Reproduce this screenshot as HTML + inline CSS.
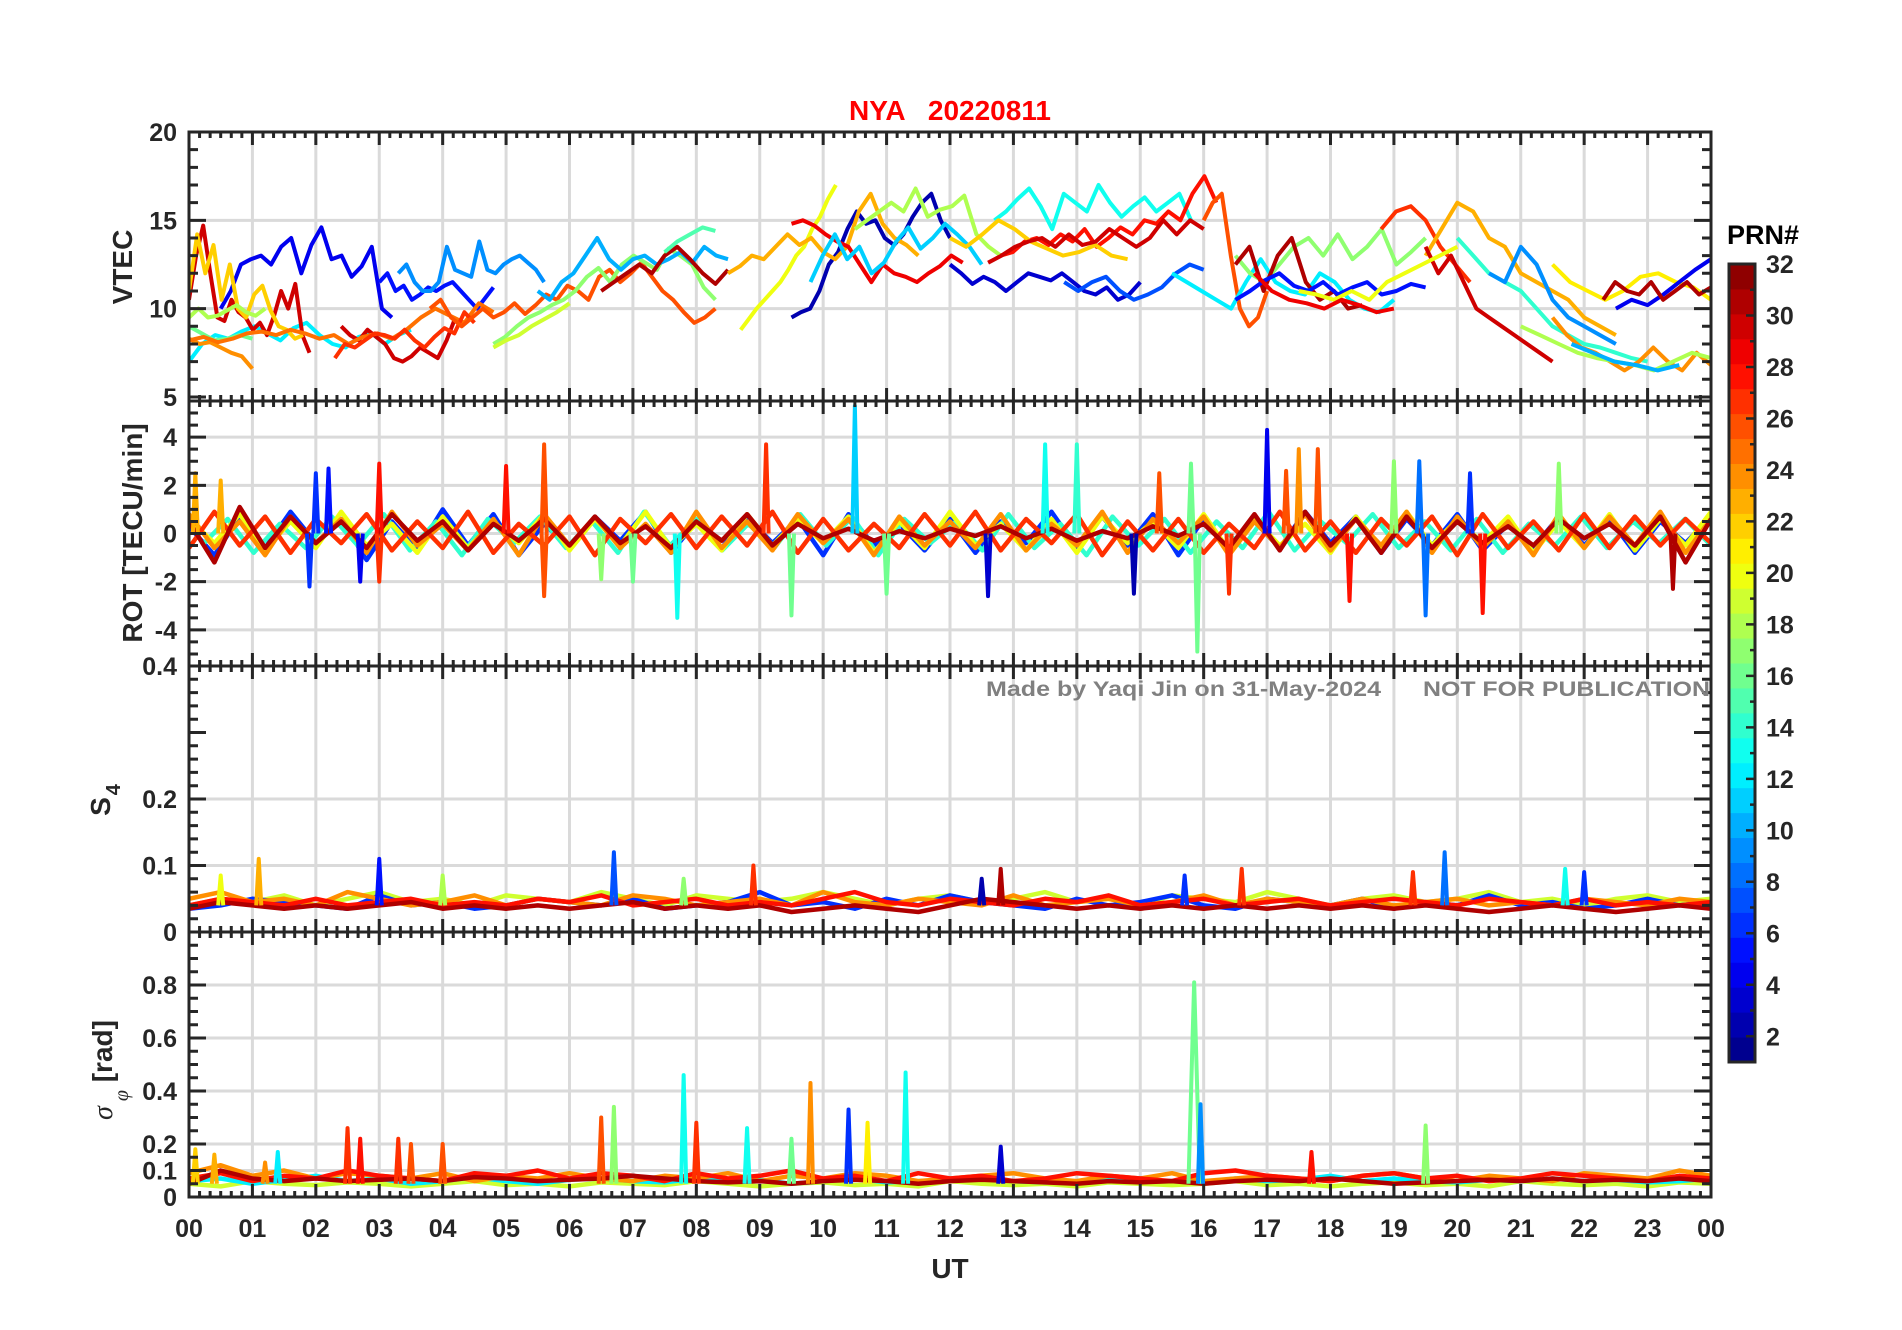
<!DOCTYPE html>
<html><head><meta charset="utf-8"><title>NYA 20220811</title>
<style>html,body{margin:0;padding:0;background:#fff}svg{display:block}text{font-family:"Liberation Sans",Arial,sans-serif;font-weight:bold}</style>
</head><body>
<svg id="chart" xmlns="http://www.w3.org/2000/svg" width="1902" height="1330" viewBox="0 0 1902 1330">
<rect x="0" y="0" width="1902" height="1330" fill="#fff"/>
<g id="layer"></g>
</svg>
<script>
// ---- data: [prn, startHour, endHour, values] ----
const vtecSeries = [
 [4,0.5,3.2,[10,11,12.5,12.8,13,12.5,13.5,14,12,13.6,14.6,12.8,13,11.8,12.4,13.5,10,9.5]],
 [5,3.0,4.8,[11.5,12,11,11.3,10.5,10.8,11.2,11,11.3,11.5,11,10.5,10,10.6,11.2]],
 [9,3.3,5.6,[12,12.5,11.5,11,11,11.5,13.5,12.2,12,11.8,13.8,12.2,12,12.5,12.8,13,12.6,12.2,11.5]],
 [12,0,3.5,[7,8,8.5,8.3,8.7,9,8.6,8.2,8.9,9.2,8.5,8,7.8,8.4,8.6,8,8.5,8.8]],
 [30,0,1.9,[10.5,13,14.7,12,9.5,9.3,10.5,9.8,9.5,8.8,9.2,8.5,9.6,11,10,11.4,8.5,7.5]],
 [30,2.4,4.2,[9,8.5,8.2,8.8,8.4,8,7.2,7,7.3,7.8,7.5,7.2,8.2,9.5]],
 [22,0,1.8,[11,14.2,12,13.6,10.5,12.5,10,9.5,10.8,11.3,9.9,9,8.8,8.3,8.5]],
 [18,0,1.2,[9.5,10,9.5,9.6,9.9,10.2,9.8,9.6,10]],
 [16,0,1.0,[9,8.6,8.2,8.3,8.5,8.3]],
 [24,0,1.0,[8.3,8,8.1,7.8,7.5,7.3,6.6]],
 [25,0,4.8,[8.2,8.4,8.1,8.3,8.6,8.7,8.5,8.8,8.6,8.3,8.5,8.0,8.4,8.6,8.3,8.8,9.5,10,9.6,9.2,10.3,9.8]],
 [27,2.3,4.5,[7.2,8,7.8,8.2,8.6,8.5,8.3,8.8,8.2,7.8,8.4,8.9,8.6,9.8,9.2]],
 [26,3.8,8.3,[10,10.5,9.5,9,9.5,10,9.5,9.8,10.3,9.7,10.2,10.8,10.5,11.3,11,10.5,11.8,12.2,11.5,12,12.6,11.8,11,10.5,9.8,9.2,9.5,10]],
 [17,4.8,8.3,[8,8.4,9,9.5,9.8,10.2,10.5,11,11.8,12.3,11.5,12.5,13,12.6,12.2,13.4,13,12.5,11.2,10.5]],
 [19,4.8,6.0,[7.8,8.2,8.5,9,9.4,9.8,10.3]],
 [10,5.5,8.5,[11,10.5,11.5,12,13,14,12.8,12.2,12.8,13,12.5,12.8,13.2,12.6,13.5,13,12.8]],
 [31,6.5,8.5,[11,11.5,12,12.5,12,13,13.5,12.8,12,11.4,12.2]],
 [15,7.5,8.3,[13.2,13.8,14.2,14.6,14.4]],
 [20,8.7,10.2,[8.8,9.4,10,10.5,11,11.5,12.2,13,13.5,14.5,15.2,16.2,17]],
 [2,9.5,12.0,[9.5,9.8,10,11,12.5,13.2,14.5,15.5,14.8,15,14,13.6,14.2,15.2,16,16.5,15,14]],
 [23,8.5,11.5,[12,12.4,13,12.8,13.5,14.2,13.6,14,13.2,12.8,13.5,15.5,16.5,14.8,14,13.6,13]],
 [29,9.5,12.2,[14.8,15,14.7,14.2,13.8,13.5,12.5,11.5,12.5,12,11.8,11.5,12,12.4,13,12.6]],
 [11,9.8,12.5,[11.5,13,14.2,12.8,13.5,12,12.6,13.8,14.6,13.4,14,14.8,14.2,13.5,12.5]],
 [18,10.5,12.8,[14.5,15,15.5,16,15.5,16.8,15.2,15.6,15.8,16.4,14.2,13.5,13]],
 [3,12.0,15.0,[12.5,12,11.4,11.8,11.5,11,11.5,12,11.8,11.6,12,11.5,11,10.8,11.2,10.5,10.8,11.5]],
 [13,12.7,15.8,[15,15.5,16.2,16.8,15.8,14.5,16.5,16,15.5,17,16,15.2,15.8,16.3,15.5,16,16.5,15]],
 [28,12.8,16.2,[13,13.2,13.8,14,13.6,14.2,13.8,14.5,13.5,14,14.6,14.2,15,14.8,15.5,15,16.5,17.5,16]],
 [22,12.0,14.8,[14,13.5,14.2,15,14.5,13.8,13.4,13,13.2,13.6,13,12.8]],
 [30,12.6,16.0,[12.6,13,13.5,13.8,14,13.5,14.2,13.6,13.8,14.5,14,13.5,14,15,14.2,15,14.5]],
 [7,13.8,16.0,[11.5,11,11.5,11.8,11,10.5,10.8,11.2,12,12.5,12.2]],
 [26,16.0,17.0,[15,16,16.5,13,10,9,9.5,11]],
 [12,15.5,19.0,[12,11.5,11,10.5,10,11.5,12.8,11.5,11,10.8,12,11.5,10.5,10,9.8,10.5]],
 [17,16.5,19.5,[13,12,11.5,12.5,13.5,14,13,14.2,12.8,13.5,14.5,12.5,13.2,14]],
 [31,16.5,18.5,[12.5,13.5,11,13,14,11.5,10.5,11,10,10.2]],
 [5,16.5,19.5,[10.5,11,11.6,12,11.3,11,11.5,10.8,11.2,11.5,10.8,11,11.4,11.2]],
 [27,18.8,20.2,[14.5,15.5,15.8,15,13.5,12.5,11.5]],
 [23,19.5,22.5,[13,14.5,16,15.5,14,13.5,12,11.5,11,10.5,9.5,9,8.5]],
 [30,19.5,21.5,[13.5,12,13,11.5,10,9.5,9,8.5,8,7.5,7]],
 [14,20.0,23.0,[14,13,12,11.5,11,10,9,8.5,8,7.8,7.5,7.2,7]],
 [9,20.5,22.5,[12,11.5,13.5,12.5,10.5,9.5,9,8.5,8]],
 [21,21.5,24,[12.5,11.5,11,10.5,11,11.8,12,11.5,11.2,10.5]],
 [4,22.5,24,[10,10.5,10.2,10.8,11.5,12.2,12.8]],
 [31,22.3,24,[10.5,11.5,11,10.8,11.5,10.5,11,11.5,10.8,11.2]],
 [24,21.5,24,[9.5,8.5,7.8,7.5,7,6.5,7,7.8,7,6.5,7.5,6.8]],
 [18,21,24,[9,8.5,8,7.5,7.2,7,6.8,6.5,7,7.5,7.2]],
 [10,21.8,23.5,[8,7.5,7,6.8,6.5,6.8]],
 [20,17.5,20.0,[11,10.8,10.5,11,10.5,11.5,12,12.5,13,13.5]],
 [29,16.8,19,[12,11,10.5,10.3,10,10.5,10.2,9.8,10]]
];
const rotSeries = [
 [6,0,24,[0.3,-0.9,0.7,-0.6,0.9,-0.4,0.6,-1.1,0.5,-0.7,1.0,-0.5,0.8,-0.9,0.4,-0.6,0.7,-0.3,0.9,-0.8,0.5,-0.6,0.7,-0.4,0.6,-0.9,0.8,-0.5,0.4,-0.7,0.6,-0.8,0.5,-0.4,0.9,-0.6,0.7,-0.5,0.8,-0.9,0.6,-0.7,0.5,-0.6,0.9,-0.4,0.7,-0.8,0.6,-0.5,0.8,-0.7,0.4,-0.6,0.7,-0.5,0.6,-0.8,0.5,-0.4,0.7]],
 [14,0.2,24,[-0.5,0.6,-0.8,0.4,-0.6,0.7,-0.5,0.8,-0.7,0.5,-0.9,0.6,-0.4,0.7,-0.6,0.5,-0.8,0.9,-0.5,0.6,-0.7,0.4,-0.6,0.8,-0.5,0.7,-0.9,0.6,-0.4,0.5,-0.7,0.8,-0.6,0.4,-0.9,0.7,-0.5,0.6,-0.8,0.5,-0.6,0.9,-0.7,0.5,-0.4,0.8,-0.6,0.5,-0.7,0.6,-0.8,0.4,-0.5,0.7,-0.6,0.5,-0.4,0.6,-0.5]],
 [20,0,24,[0.6,-0.4,0.8,-0.7,0.5,-0.6,0.9,-0.5,0.4,-0.8,0.7,-0.6,0.5,-0.4,0.8,-0.7,0.6,-0.5,0.9,-0.6,0.4,-0.7,0.8,-0.5,0.6,-0.4,0.7,-0.8,0.5,-0.6,0.9,-0.5,0.4,-0.7,0.6,-0.8,0.7,-0.4,0.5,-0.6,0.8,-0.7,0.6,-0.5,0.4,-0.8,0.7,-0.6,0.9,-0.5,0.6,-0.4,0.7,-0.8,0.5,-0.6,0.8,-0.7,0.6,-0.5,0.9]],
 [24,0,24,[0.8,-0.6,0.5,-0.9,0.7,-0.4,0.6,-0.8,0.9,-0.5,0.4,-0.7,0.6,-0.9,0.8,-0.5,0.7,-0.6,0.4,-0.8,0.9,-0.6,0.5,-0.7,0.8,-0.4,0.6,-0.9,0.7,-0.5,0.5,-0.6,0.8,-0.7,0.4,-0.5,0.9,-0.8,0.6,-0.4,0.7,-0.9,0.5,-0.6,0.8,-0.7,0.6,-0.5,0.9,-0.8,0.7,-0.6,0.5,-0.9,0.8,-0.6,0.7,-0.5,0.9,-0.8,0.6]],
 [27,0,24,[-0.6,0.9,-0.5,0.7,-0.8,0.6,-0.4,0.8,-0.7,0.5,-0.6,0.9,-0.8,0.4,-0.5,0.7,-0.9,0.6,-0.4,0.8,-0.6,0.7,-0.5,0.9,-0.8,0.6,-0.7,0.4,-0.6,0.8,-0.5,0.9,-0.7,0.6,-0.4,0.8,-0.9,0.5,-0.7,0.6,-0.8,0.4,-0.6,0.9,-0.7,0.5,-0.8,0.6,-0.5,0.7,-0.9,0.8,-0.6,0.5,-0.7,0.8,-0.6,0.7,-0.5,0.6,-0.4]],
 [31,0,24,[0.5,-1.2,1.1,-0.6,0.7,-0.4,0.5,-0.6,0.8,-0.3,0.5,-0.7,0.4,-0.3,0.6,-0.5,0.7,-0.4,0.3,-0.6,0.5,-0.3,0.8,-0.5,0.4,-0.2,0.2,-0.3,0.1,-0.2,0.2,-0.1,0.3,-0.2,0.2,-0.3,0.1,-0.2,0.3,-0.1,0.4,-0.6,0.8,-0.7,0.9,-0.5,0.6,-0.8,0.7,-0.6,0.5,-0.4,0.3,-0.5,0.6,-0.2,0.4,-0.5,0.7,-1.2,0.6]]
];
const rotSpikes = [
 [6,2.0,2.5],[5,2.2,2.7],[6,1.9,-2.2],[4,2.7,-2.0],[28,3.0,2.9],[27,3.0,-2.0],[28,5.0,2.8],[26,5.6,3.7],[26,5.6,-2.6],
 [17,6.5,-1.9],[16,7.0,-2.0],[27,9.1,3.7],[11,10.5,5.3],[13,7.7,-3.5],[16,9.5,-3.4],[16,11.0,-2.5],[3,12.6,-2.6],
 [13,13.5,3.7],[14,14.0,3.7],[2,14.9,-2.5],[26,15.3,2.5],[16,15.8,2.9],[16,15.9,-4.9],[27,16.4,-2.5],[4,17.0,4.3],
 [26,17.3,2.6],[24,17.5,3.5],[26,17.8,3.5],[28,18.3,-2.8],[17,19.0,3.0],[8,19.4,3.0],[8,19.5,-3.4],[6,20.2,2.5],
 [28,20.4,-3.3],[17,21.6,2.9],[31,23.4,-2.3],[23,0.1,2.5],[23,0.5,2.2]
];
const s4Series = [
 [19,0,24,[0.04,0.05,0.045,0.055,0.04,0.05,0.06,0.045,0.05,0.04,0.055,0.05,0.045,0.06,0.05,0.04,0.055,0.05,0.045,0.05,0.06,0.05,0.04,0.05,0.055,0.045,0.05,0.06,0.045,0.05,0.04,0.055,0.05,0.045,0.06,0.05,0.04,0.05,0.055,0.045,0.05,0.06,0.045,0.05,0.04,0.05,0.055,0.045,0.05]],
 [6,0,24,[0.035,0.04,0.05,0.045,0.04,0.035,0.055,0.04,0.045,0.035,0.04,0.05,0.045,0.04,0.05,0.035,0.04,0.045,0.06,0.04,0.045,0.035,0.05,0.04,0.055,0.045,0.04,0.035,0.05,0.04,0.045,0.055,0.04,0.035,0.05,0.045,0.04,0.05,0.035,0.045,0.04,0.055,0.04,0.045,0.035,0.04,0.05,0.04,0.045]],
 [24,0,24,[0.05,0.06,0.045,0.05,0.04,0.06,0.05,0.04,0.045,0.055,0.04,0.05,0.045,0.04,0.055,0.05,0.04,0.045,0.05,0.04,0.06,0.045,0.04,0.05,0.045,0.04,0.055,0.04,0.045,0.05,0.04,0.045,0.055,0.04,0.05,0.045,0.04,0.05,0.04,0.045,0.05,0.04,0.045,0.04,0.05,0.045,0.04,0.05,0.045]],
 [28,0,24,[0.04,0.05,0.045,0.04,0.05,0.04,0.045,0.05,0.04,0.045,0.04,0.05,0.045,0.055,0.04,0.045,0.05,0.04,0.045,0.04,0.05,0.06,0.045,0.04,0.05,0.045,0.04,0.05,0.045,0.055,0.04,0.045,0.05,0.04,0.045,0.05,0.04,0.045,0.05,0.045,0.04,0.05,0.045,0.04,0.05,0.04,0.045,0.04,0.045]],
 [31,0,24,[0.035,0.045,0.04,0.035,0.04,0.035,0.04,0.045,0.035,0.04,0.035,0.04,0.035,0.04,0.045,0.035,0.04,0.035,0.04,0.03,0.035,0.04,0.035,0.03,0.04,0.05,0.045,0.04,0.035,0.04,0.035,0.04,0.035,0.04,0.035,0.04,0.035,0.04,0.035,0.04,0.035,0.03,0.035,0.04,0.035,0.03,0.035,0.04,0.035]]
];
const s4Spikes = [
 [23,1.1,0.11],[20,0.5,0.085],[5,3.0,0.11],[7,6.7,0.12],[27,8.9,0.10],[31,12.8,0.095],[6,15.7,0.085],[27,16.6,0.095],
 [27,19.3,0.09],[8,19.8,0.12],[13,21.7,0.095],[6,22.0,0.09],[17,7.8,0.08],[18,4.0,0.085],[2,12.5,0.08]
];
const sigSeries = [
 [19,0,24,[0.05,0.04,0.06,0.05,0.045,0.055,0.05,0.04,0.05,0.06,0.045,0.05,0.04,0.055,0.05,0.045,0.06,0.05,0.04,0.05,0.055,0.045,0.05,0.04,0.06,0.05,0.045,0.05,0.04,0.055,0.05,0.045,0.05,0.06,0.045,0.05,0.04,0.05,0.055,0.045,0.05,0.04,0.06,0.05,0.045,0.05,0.04,0.055,0.05]],
 [12,0,24,[0.06,0.07,0.05,0.065,0.08,0.06,0.07,0.05,0.06,0.075,0.06,0.05,0.065,0.07,0.06,0.055,0.07,0.06,0.065,0.05,0.06,0.07,0.055,0.06,0.065,0.07,0.06,0.055,0.06,0.07,0.065,0.06,0.055,0.07,0.06,0.065,0.08,0.06,0.07,0.06,0.055,0.065,0.06,0.07,0.06,0.065,0.055,0.06,0.07]],
 [24,0,24,[0.09,0.12,0.08,0.1,0.07,0.09,0.08,0.07,0.09,0.06,0.08,0.07,0.09,0.07,0.06,0.08,0.07,0.09,0.06,0.08,0.07,0.09,0.08,0.06,0.07,0.08,0.09,0.07,0.06,0.08,0.07,0.09,0.06,0.07,0.08,0.07,0.06,0.08,0.09,0.07,0.06,0.08,0.07,0.06,0.09,0.08,0.07,0.1,0.08]],
 [28,0,24,[0.07,0.09,0.06,0.08,0.07,0.1,0.08,0.07,0.06,0.09,0.08,0.1,0.07,0.09,0.08,0.06,0.09,0.07,0.08,0.1,0.07,0.08,0.06,0.09,0.07,0.08,0.06,0.07,0.09,0.08,0.07,0.06,0.09,0.1,0.08,0.07,0.06,0.08,0.09,0.07,0.08,0.06,0.07,0.09,0.08,0.07,0.06,0.08,0.07]],
 [31,0,24,[0.05,0.1,0.07,0.06,0.07,0.06,0.065,0.07,0.06,0.075,0.07,0.06,0.065,0.07,0.08,0.07,0.06,0.055,0.06,0.05,0.06,0.065,0.06,0.05,0.06,0.065,0.06,0.055,0.05,0.06,0.055,0.06,0.05,0.06,0.065,0.06,0.07,0.06,0.05,0.055,0.06,0.065,0.06,0.07,0.06,0.065,0.06,0.07,0.06]]
];
const sigSpikes = [
 [27,2.5,0.26],[28,2.7,0.22],[27,3.3,0.22],[26,3.5,0.2],[26,6.5,0.30],[17,6.7,0.34],[13,7.8,0.46],[27,8.0,0.28],[13,8.8,0.26],
 [16,9.5,0.22],[24,9.8,0.43],[6,10.4,0.33],[21,10.7,0.28],[13,11.3,0.47],[16,15.85,0.81],[9,15.95,0.35],[17,19.5,0.27],
 [3,12.8,0.19],[28,17.7,0.17],[22,0.1,0.18],[23,0.4,0.16],[12,1.4,0.17],[24,1.2,0.13],[26,4.0,0.2]
];
const xTickLabels = ["00","01","02","03","04","05","06","07","08","09","10","11","12","13","14","15","16","17","18","19","20","21","22","23","00"];
const vtecTicks = [5,10,15,20];
const rotTicks = [-4,-2,0,2,4];
const s4Ticks = [0,0.1,0.2,0.4];
const sigTicks = [0,0.1,0.2,0.4,0.6,0.8];
const cbarTicks = [2,4,6,8,10,12,14,16,18,20,22,24,26,28,30,32];

// ---- layout ----
const NS = "http://www.w3.org/2000/svg";
const L = 189, R = 1711;
const layer = document.getElementById('layer');
function mk(tag, attrs, parent){const e=document.createElementNS(NS,tag);for(const k in attrs)e.setAttribute(k,attrs[k]);(parent||layer).appendChild(e);return e;}
function xs(t){return L + t/24*(R-L);}
function jet(prn){const x=(prn-0.5)/32;const c=v=>Math.round(255*Math.max(0,Math.min(1,v)));return `rgb(${c(1.5-Math.abs(4*x-3))},${c(1.5-Math.abs(4*x-2))},${c(1.5-Math.abs(4*x-1))})`;}
const panels = [
 {name:'vtec',top:132,bot:401,min:4.77,max:20,ticks:vtecTicks,minor:1,series:vtecSeries,spikes:[],base:0,grid:[10,15]},
 {name:'rot',top:401,bot:666,min:-5.5,max:5.5,ticks:rotTicks,minor:0.5,series:rotSeries,spikes:rotSpikes,base:0,grid:[-4,-2,0,2,4]},
 {name:'s4',top:666,bot:932,min:0,max:0.4,ticks:s4Ticks,minor:0.02,series:s4Series,spikes:s4Spikes,base:0.04,grid:[0.1,0.2]},
 {name:'sigma',top:932,bot:1197,min:0,max:1,ticks:sigTicks,minor:0.05,series:sigSeries,spikes:sigSpikes,base:0.05,grid:[0.1,0.2,0.4,0.6,0.8]}
];
panels.forEach((p,pi)=>{
 const ys=v=>p.bot-(v-p.min)/(p.max-p.min)*(p.bot-p.top);
 const g=mk('g',{});
 
 
 const cp=mk('clipPath',{id:'clip'+pi},g);
 mk('rect',{x:L,y:p.top,width:R-L,height:p.bot-p.top},cp);
 for(let h=1;h<24;h++){const l=mk('line',{x1:xs(h),x2:xs(h),y1:p.top,y2:p.bot,stroke:'#dadada','stroke-width':3},g);
  
  }
 p.grid.forEach(v=>{const l=mk('line',{x1:L,x2:R,y1:ys(v),y2:ys(v),stroke:'#dadada','stroke-width':3},g);
  
  });
 const dg=mk('g',{'clip-path':`url(#clip${pi})`},g);
 const sw=p.name==='vtec'?4:4.5;
 p.series.forEach(s=>{
  const [prn,t0,t1,vals]=s;const n=vals.length;
  const pts=vals.map((v,i)=>`${xs(t0+(t1-t0)*i/(n-1)).toFixed(1)},${ys(v).toFixed(1)}`).join(' ');
  const pl=mk('polyline',{points:pts,fill:'none',stroke:jet(prn),'stroke-width':sw,'stroke-linejoin':'round'},dg);
  
  
 });
 p.spikes.forEach(s=>{
  const [prn,t,v]=s;const w=(p.name==='sigma'&&v>0.6)?0.09:0.04;
  const pts=`${xs(t-w)},${ys(p.base)} ${xs(t)},${ys(v)} ${xs(t+w)},${ys(p.base)}`;
  const pl=mk('polyline',{points:pts,fill:'none',stroke:jet(prn),'stroke-width':4,'stroke-linejoin':'round'},dg);
  
  
 });
 let d='';
 for(let m=0;m<=24*6;m++){const x=xs(m/6);const len=(m%6===0)?13:6;d+=`M${x},${p.top}v${len}M${x},${p.bot}v${-len}`;}
 const start=Math.ceil(p.min/p.minor-1e-6);
 for(let k=start;k*p.minor<=p.max+1e-9;k++){const v=k*p.minor;const y=ys(v);
  const major=p.ticks.some(t=>Math.abs(t-v)<1e-6)||(p.name==='s4'&&Math.abs(v-0.3)<1e-6);
  const len=major?17:9;d+=`M${L},${y}h${len}M${R},${y}h${-len}`;}
 const tk=mk('path',{d:d,stroke:'#262626','stroke-width':3,fill:'none'},g);
 
 
 const fr=mk('rect',{x:L,y:p.top,width:R-L,height:p.bot-p.top,fill:'none',stroke:'#262626','stroke-width':3},g);
 
 
 p.ticks.forEach(v=>{
  const t=mk('text',{x:177,y:ys(v)+9,'text-anchor':'end','font-size':25,fill:'#262626'},g);
  t.textContent=String(v);
  
  
 });
});
xTickLabels.forEach((s,i)=>{
 const t=mk('text',{x:xs(i),y:1237,'text-anchor':'middle','font-size':25,fill:'#262626'});
 t.textContent=s;
 
 
});
const CT=264,CB=1062,CL=1729,CR=1755;
const cy=v=>CB-(v-1)/31*(CB-CT);
for(let i=0;i<32;i++){
 const r=mk('rect',{x:CL,y:CB-(i+1)*(CB-CT)/32,width:CR-CL,height:(CB-CT)/32+0.5,fill:jet(i+1)});
 
 
}
let cd='';
for(let v=1;v<=32;v++){cd+=`M${CR},${cy(v)}h${v%2===0?-9:-5}`;}
const cbt=mk('path',{d:cd,stroke:'#262626','stroke-width':2.5,fill:'none'});


const cbf=mk('rect',{x:CL,y:CT,width:CR-CL,height:CB-CT,fill:'none',stroke:'#262626','stroke-width':3});


cbarTicks.forEach(v=>{
 const t=mk('text',{x:1766,y:cy(v)+9,'font-size':25,fill:'#262626'});
 t.textContent=String(v);
 
 
});
</script>
<svg style="position:absolute;left:0;top:0" width="1902" height="1330">
<text x="950" y="120" text-anchor="middle" font-size="28" fill="#ff0000" xml:space="preserve">NYA   20220811</text>
<text x="1727" y="244" font-size="27" fill="#000">PRN#</text>
<text x="986" y="696" font-size="21" fill="#808080" textLength="395" lengthAdjust="spacingAndGlyphs">Made by Yaqi Jin on 31-May-2024</text>
<text x="1423" y="696" font-size="21" fill="#808080" textLength="287" lengthAdjust="spacingAndGlyphs">NOT FOR PUBLICATION</text>
<text transform="translate(132,267) rotate(-90)" text-anchor="middle" font-size="28" fill="#262626">VTEC</text>
<text transform="translate(142,533) rotate(-90)" text-anchor="middle" font-size="28" fill="#262626">ROT [TECU/min]</text>
<text transform="translate(110,800) rotate(-90)" text-anchor="middle" font-size="28" fill="#262626">S<tspan font-size="20" dy="10" dx="2">4</tspan></text>
<text transform="translate(112,1070) rotate(-90)" text-anchor="middle" font-size="28" fill="#262626"><tspan font-family="Liberation Serif" font-style="italic" font-weight="normal">σ</tspan><tspan font-size="20" dy="16" font-family="Liberation Serif" font-style="italic" font-weight="normal"> φ</tspan><tspan dy="-16"> [rad]</tspan></text>
<text x="950" y="1278" text-anchor="middle" font-size="28" fill="#262626">UT</text>
</svg>
</body></html>
